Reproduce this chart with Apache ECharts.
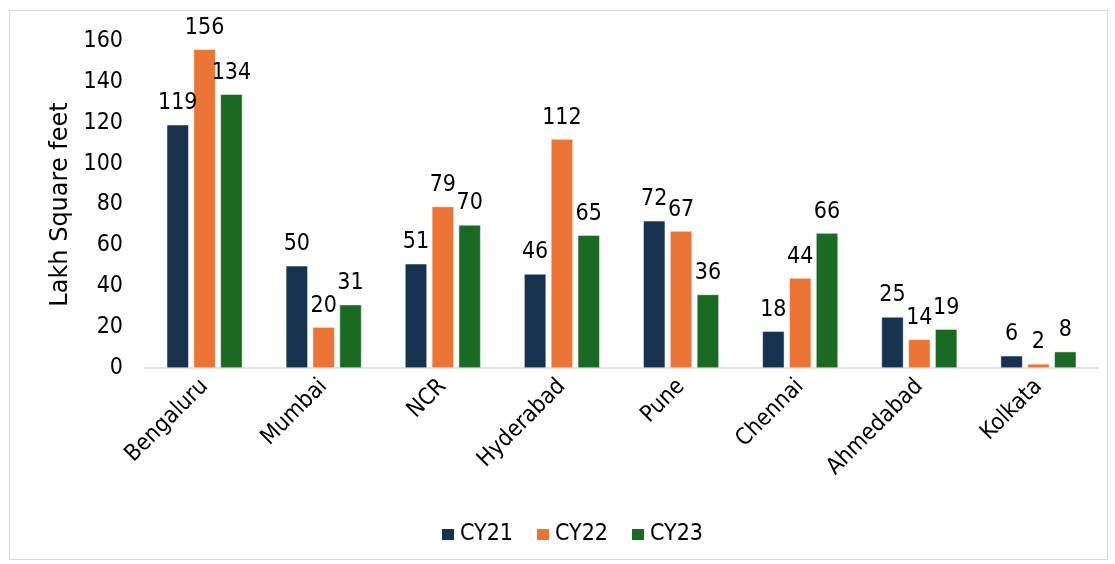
<!DOCTYPE html>
<html>
<head>
<meta charset="utf-8">
<script src="https://cdn.jsdelivr.net/npm/echarts@6/dist/echarts.min.js"></script>
<style>
  html, body { margin: 0; padding: 0; background: #fff; }
  #chart { width: 1115px; height: 564px; }
  #frame { position: absolute; left: 9px; top: 10px; width: 1097px; height: 548px; border: 1px solid #d9d9d9; pointer-events: none; }
</style>
</head>
<body>
<div id="chart"></div>
<div id="frame"></div>
<script>
  // values
  const cities = ['Bengaluru', 'Mumbai', 'NCR', 'Hyderabad', 'Pune', 'Chennai', 'Ahmedabad', 'Kolkata'];
  const cy21 = [119, 50, 51, 46, 72, 18, 25, 6];
  const cy22 = [156, 20, 79, 112, 67, 44, 14, 2];
  const cy23 = [134, 31, 70, 65, 36, 66, 19, 8];

  const font = 'DejaVu Sans Condensed';
  let chart = echarts.init(document.getElementById('chart'));

  function bar(name, data, color) {
    return {
      name: name,
      type: 'bar',
      data: data,
      barWidth: 22,
      barGap: '22%',
      itemStyle: { color: color, borderColor: '#ffffff', borderWidth: 0.5 },
      label: {
        show: true,
        position: 'top',
        distance: 10,
        color: '#000',
        fontFamily: font,
        fontSize: 23
      }
    };
  }

  let option = {
    animation: false,
    textStyle: { fontFamily: font },
    grid: { left: 145, right: 17, top: 41, bottom: 196, containLabel: false },
    legend: {
      bottom: 13,
      left: 435,
      itemWidth: 14,
      itemHeight: 13,
      itemGap: 22,
      itemTextGap: 5,
      icon: 'rect',
      textStyle: { fontFamily: font, fontSize: 23, color: '#000' },
      data: ['CY21', 'CY22', 'CY23']
    },
    xAxis: {
      type: 'category',
      data: cities,
      axisTick: { show: false },
      axisLine: { lineStyle: { color: '#d9d9d9', width: 1.5 } },
      axisLabel: {
        rotate: 45,
        color: '#000',
        fontFamily: font,
        fontSize: 23,
        margin: 15,
        interval: 0
      }
    },
    yAxis: {
      type: 'value',
      min: 0,
      max: 160,
      interval: 20,
      name: 'Lakh Square feet',
      nameLocation: 'middle',
      nameGap: 71,
      nameTextStyle: { color: '#000', fontFamily: 'DejaVu Sans', fontSize: 24 },
      splitLine: { show: false },
      axisLine: { show: false },
      axisTick: { show: false },
      axisLabel: { color: '#000', fontFamily: font, fontSize: 23, margin: 22 }
    },
    series: [
      bar('CY21', cy21, '#17324f'),
      bar('CY22', cy22, '#ec7434'),
      bar('CY23', cy23, '#1b6a24')
    ]
  };
  chart.setOption(option);
</script>
</body>
</html>
